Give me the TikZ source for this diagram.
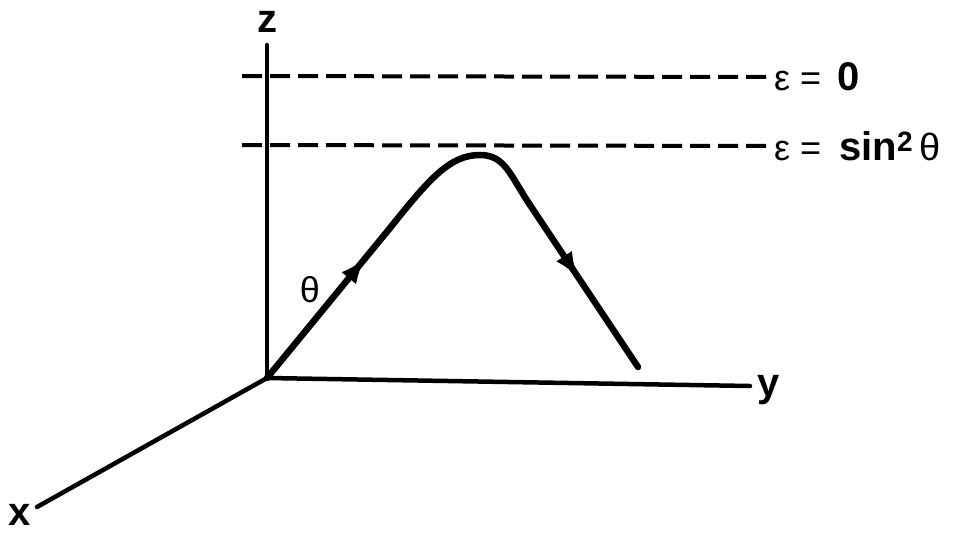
\documentclass[tikz,border=0pt]{standalone}
\usepackage{fontspec}
\setmainfont{Liberation Sans}
\usetikzlibrary{arrows.meta,decorations.markings}
\tikzset{
  axis/.style={line width=4.5pt,line cap=round},
  level/.style={line width=4pt,dash pattern=on 20pt off 8pt},
  orbit/.style={line width=6.5pt,line cap=round,line join=round},
  lbl/.style={font=\fontsize{40}{42}\selectfont\bfseries,inner sep=0pt},
  greek/.style={font=\fontsize{36}{38}\selectfont,inner sep=0pt},
  midarrow/.style={postaction={decorate},decoration={markings,
    mark=at position #1 with {\arrow{Latex[length=26pt,width=19pt]}}}}
}
\begin{document}
\begin{tikzpicture}[x=1pt,y=-1pt]
\useasboundingbox (0,0) rectangle (961,533);
\coordinate (O) at (267,378);
\coordinate (ztop) at (267,45);
\coordinate (yend) at (750,386);
\coordinate (xend) at (37,507);
\node[lbl] (z) at (267,22) {z};
\node[lbl] (y) at (769,390) {y};
\node[lbl] (x) at (20,515) {x};
\draw[axis] (O) -- (ztop);
\draw[axis] (O) -- (yend);
\draw[axis] (O) -- (xend);

\coordinate (lev0) at (242,76);
\coordinate (lev1) at (242,145);
\node[greek,anchor=west] (eps0) at (774,77) {ε\hspace{10pt}=\hspace{16pt}{\bfseries\fontsize{40}{42}\selectfont 0}};
\node[greek,anchor=west] (eps1) at (774,146) {ε\hspace{10pt}=\hspace{18pt}{\bfseries\fontsize{40}{42}\selectfont sin\textsuperscript{2}}\hspace{6pt}{\fontsize{38}{40}\selectfont θ}};
\draw[level] (lev0) -- ([xshift=-5pt]eps0.west);
\draw[level] (lev1) -- ([xshift=-5pt]eps1.west);

\coordinate (r1) at (390,228);
\coordinate (top) at (480,155);
\coordinate (d1) at (530,205);
\coordinate (tail) at (638,367);
\draw[orbit,midarrow=0.8] (O) -- (r1);
\draw[orbit] (r1) .. controls (430,178) and (450,155) .. (top)
  .. controls (505,155) and (510,175) .. (d1);
\draw[orbit,midarrow=0.45] (d1) -- (tail);
\node[greek] (theta) at (310,290) {θ};
\end{tikzpicture}
\end{document}
